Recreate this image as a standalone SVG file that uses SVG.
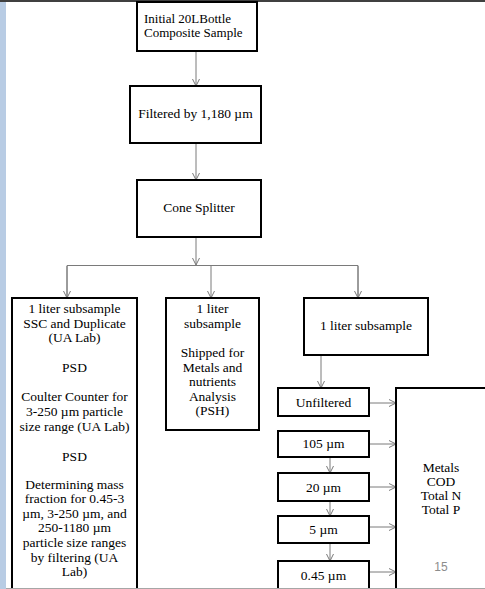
<svg xmlns="http://www.w3.org/2000/svg" width="485" height="589" viewBox="0 0 485 589">
<defs>
<style>
.box{fill:#fff;stroke:#000;stroke-width:2}
.t{font-family:"Liberation Serif","Times New Roman",serif;font-size:13.5px;fill:#000;text-anchor:middle}
.tl{font-family:"Liberation Serif","Times New Roman",serif;font-size:13px;fill:#000}
.c{fill:none;stroke:#7a7a7a;stroke-width:1}
</style>
<marker id="ah" viewBox="0 0 10 10" refX="10" refY="5" markerWidth="10" markerHeight="10" markerUnits="userSpaceOnUse" orient="auto">
<path d="M3,1.5 L10,5 L3,8.5" fill="none" stroke="#7a7a7a" stroke-width="1"/>
</marker>
</defs>
<rect x="0" y="0" width="485" height="589" fill="#fff"/>
<rect x="0" y="0" width="6" height="589" fill="#b8cce4"/>
<line x1="0" y1="1" x2="485" y2="1" stroke="#404040" stroke-width="2"/>

<g id="connectors">
<line class="c" x1="196" y1="52" x2="196" y2="86" marker-end="url(#ah)"/>
<line class="c" x1="196" y1="144" x2="196" y2="180" marker-end="url(#ah)"/>
<line class="c" x1="196" y1="238" x2="196" y2="265" marker-end="url(#ah)"/>
<polyline class="c" points="67,298 67,265.5 358,265.5 358,298"/>
<line class="c" x1="67" y1="266" x2="67" y2="298" marker-end="url(#ah)"/>
<line class="c" x1="211" y1="266" x2="211" y2="298" marker-end="url(#ah)"/>
<line class="c" x1="358" y1="266" x2="358" y2="298" marker-end="url(#ah)"/>
<line class="c" x1="321" y1="356" x2="321" y2="388" marker-end="url(#ah)"/>
<line class="c" x1="330" y1="458" x2="330" y2="473" marker-end="url(#ah)"/>
<line class="c" x1="330" y1="502" x2="330" y2="516" marker-end="url(#ah)"/>
<line class="c" x1="330" y1="544" x2="330" y2="561" marker-end="url(#ah)"/>
<line class="c" x1="370" y1="403" x2="396" y2="403" marker-end="url(#ah)"/>
<line class="c" x1="370" y1="444" x2="396" y2="444" marker-end="url(#ah)"/>
<line class="c" x1="370" y1="487" x2="396" y2="487" marker-end="url(#ah)"/>
<line class="c" x1="370" y1="527" x2="396" y2="527" marker-end="url(#ah)"/>
<line class="c" x1="370" y1="572" x2="396" y2="572" marker-end="url(#ah)"/>
</g>

<g id="initial">
<rect class="box" x="137" y="2" width="120" height="49"/>
<text class="tl" x="144" y="23">Initial 20LBottle</text>
<text class="tl" x="144" y="37">Composite Sample</text>
</g>
<g id="filtered">
<rect class="box" x="130" y="86" width="131" height="57"/>
<text class="t" x="195.5" y="118">Filtered by 1,180 µm</text>
</g>
<g id="cone">
<rect class="box" x="137" y="180" width="124" height="57"/>
<text class="t" x="199" y="212">Cone Splitter</text>
</g>
<g id="sub1">
<rect class="box" x="12" y="298" width="125" height="300"/>
<text class="t" x="74.5" y="313">1 liter subsample</text>
<text class="t" x="74.5" y="328">SSC and Duplicate</text>
<text class="t" x="74.5" y="342">(UA Lab)</text>
<text class="t" x="74.5" y="372">PSD</text>
<text class="t" x="74.5" y="401">Coulter Counter for</text>
<text class="t" x="74.5" y="416">3-250 µm particle</text>
<text class="t" x="74.5" y="431">size range (UA Lab)</text>
<text class="t" x="74.5" y="461">PSD</text>
<text class="t" x="74.5" y="489">Determining mass</text>
<text class="t" x="74.5" y="503">fraction for 0.45-3</text>
<text class="t" x="74.5" y="518">µm, 3-250 µm, and</text>
<text class="t" x="74.5" y="532">250-1180 µm</text>
<text class="t" x="74.5" y="547">particle size ranges</text>
<text class="t" x="74.5" y="562">by filtering (UA</text>
<text class="t" x="74.5" y="576">Lab)</text>
</g>
<g id="sub2">
<rect class="box" x="166" y="298" width="93" height="132"/>
<text class="t" x="212.5" y="313">1 liter</text>
<text class="t" x="212.5" y="328">subsample</text>
<text class="t" x="212.5" y="357">Shipped for</text>
<text class="t" x="212.5" y="372">Metals and</text>
<text class="t" x="212.5" y="386">nutrients</text>
<text class="t" x="212.5" y="401">Analysis</text>
<text class="t" x="212.5" y="415">(PSH)</text>
</g>
<g id="sub3">
<rect class="box" x="304" y="298" width="124" height="57"/>
<text class="t" x="366" y="330">1 liter subsample</text>
</g>
<g id="unfiltered">
<rect class="box" x="278" y="388" width="91" height="28"/>
<text class="t" x="323.5" y="407">Unfiltered</text>
</g>
<g id="f105">
<rect class="box" x="278" y="431" width="91" height="26"/>
<text class="t" x="323.5" y="448">105 µm</text>
</g>
<g id="f20">
<rect class="box" x="278" y="473" width="91" height="28"/>
<text class="t" x="323.5" y="492">20 µm</text>
</g>
<g id="f5">
<rect class="box" x="278" y="516" width="91" height="27"/>
<text class="t" x="323.5" y="534">5 µm</text>
</g>
<g id="f045">
<rect class="box" x="278" y="561" width="91" height="40"/>
<text class="t" x="323.5" y="580">0.45 µm</text>
</g>
<g id="metals">
<rect class="box" x="396" y="388" width="120" height="220"/>
<text class="t" x="441" y="472">Metals</text>
<text class="t" x="441" y="486">COD</text>
<text class="t" x="441" y="500">Total N</text>
<text class="t" x="441" y="514">Total P</text>
</g>
<text x="441" y="571" font-family="Liberation Sans, Arial, sans-serif" font-size="12" fill="#8c8c8c" text-anchor="middle">15</text>
<line x1="6" y1="588.5" x2="485" y2="588.5" stroke="#a6a6a6" stroke-width="1"/>
</svg>
